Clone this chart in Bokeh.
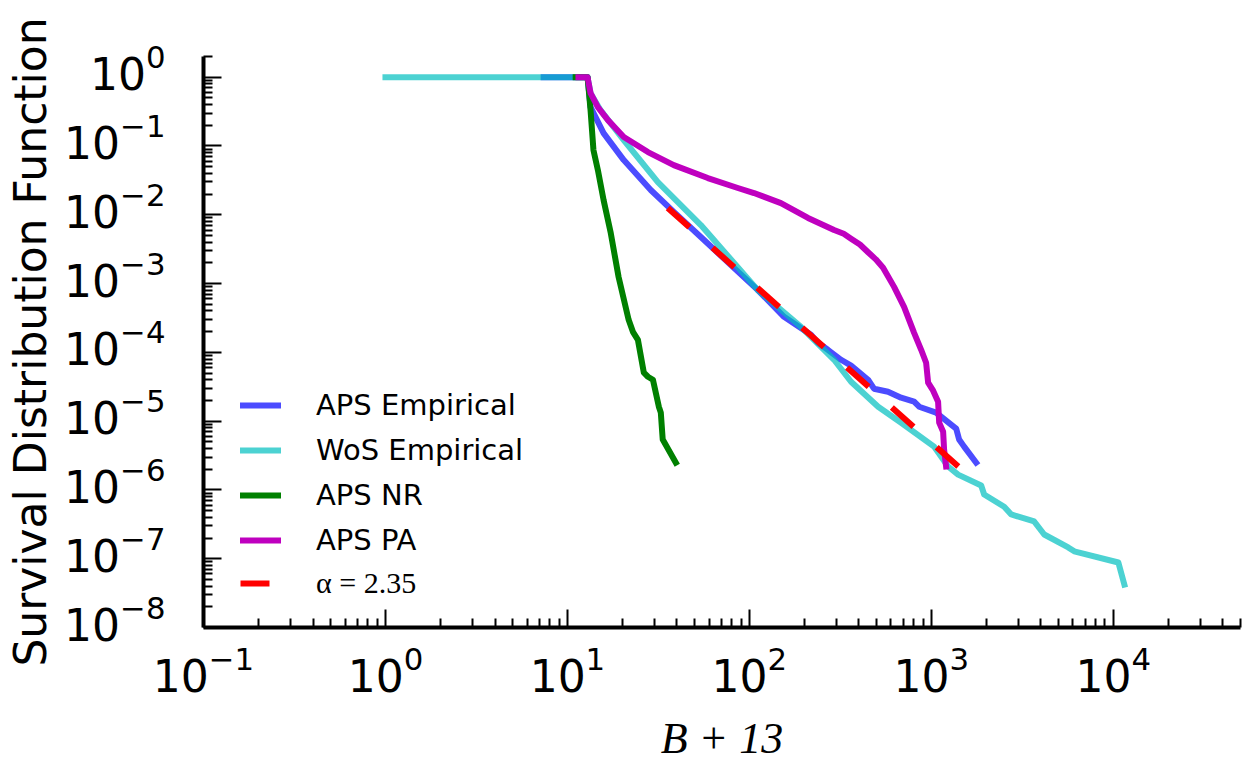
from bokeh.plotting import figure
from bokeh.models import (FixedTicker, LogTickFormatter, CustomJSTickFormatter, Legend, LegendItem,
                          Range1d, LogAxis, LogScale)
from bokeh.embed import file_html
from bokeh.resources import INLINE

# ---------------- data ----------------
aps_emp_x = [7.4, 12.9, 13.4, 15.8, 20.4, 28.7, 38.4, 54.1, 82.2, 111, 155, 218, 238, 270,
             319, 362, 449, 484, 578, 682, 804, 857, 1062, 1284, 1369, 1421, 1514, 1762]
aps_emp_y = [1.0, 1.0, 0.367, 0.154, 0.0624, 0.0229, 0.011, 4.76e-3, 1.69e-3, 8.1e-4, 3.29e-4,
             1.80e-4, 1.38e-4, 1.09e-4, 7.8e-5, 6.4e-5, 4.0e-5, 2.96e-5, 2.68e-5, 2.19e-5,
             1.92e-5, 1.62e-5, 1.33e-5, 8.9e-6, 7.8e-6, 5.4e-6, 4.26e-6, 2.5e-6]

wos_emp_x = [1.0, 12.9, 13.4, 15.2, 20.4, 31.4, 54.1, 76.2, 111, 192, 292, 362, 510, 682,
             1035, 1236, 1403, 1879, 1951, 2513, 2748, 3675, 4171, 5653, 6100, 10660, 11500]
wos_emp_y = [1.0, 1.0, 0.586, 0.332, 0.122, 0.0299, 7.1e-3, 2.52e-3, 8.1e-4, 2.35e-4, 7.8e-5,
             3.74e-5, 1.62e-5, 9.5e-6, 4.26e-6, 2.19e-6, 1.67e-6, 1.16e-6, 8.6e-7, 5.7e-7,
             4.4e-7, 3.48e-7, 2.25e-7, 1.46e-7, 1.28e-7, 8.8e-8, 4.2e-8]

aps_nr_x = [11.1, 12.9, 13.1, 13.4, 13.9, 14.7, 15.8, 17.3, 19.1, 21.7, 22.9, 24.4, 26.3,
            27.7, 29.5, 31.8, 32.6, 33.4, 39.4]
aps_nr_y = [1.0, 1.0, 0.648, 0.332, 0.0872, 0.0447, 0.0164, 5.44e-3, 1.25e-3, 2.97e-4,
            1.99e-4, 1.52e-4, 5.06e-5, 4.42e-5, 4.0e-5, 1.62e-5, 1.33e-5, 5.39e-6, 2.5e-6]

aps_pa_x = [11.5, 12.9, 13.4, 14.7, 16.7, 20.4, 27.7, 38.4, 59.1, 86.4, 106, 149, 210, 292,
            330, 362, 405, 449, 495, 543, 624, 708, 804, 879, 936, 960, 1023, 1089, 1104,
            1161, 1175, 1205]
aps_pa_y = [1.0, 1.0, 0.586, 0.367, 0.238, 0.135, 0.0816, 0.0528, 0.0342, 0.0245, 0.0207,
            0.0148, 8.99e-3, 6.0e-3, 5.3e-3, 4.5e-3, 3.7e-3, 2.85e-3, 2.25e-3, 1.7e-3, 8.95e-4,
            4.59e-4, 1.92e-4, 1.09e-4, 7.07e-5, 3.62e-5, 2.77e-5, 1.92e-5, 9.5e-6, 7.0e-6,
            3.86e-6, 2.19e-6]

fit_x = [35.6, 1460]
fit_y = [0.01256, 2.0e-6]

series_labels = ["APS Empirical", "WoS Empirical", "APS NR", "APS PA"]
fit_label = "α = 2.35"
y_title = "Survival Distribution Function"
x_title = "B + 13"

x_exponents = [-1, 0, 1, 2, 3, 4]
y_exponents = [-8, -7, -6, -5, -4, -3, -2, -1, 0]
X_MIN, X_MAX = 0.1, 5e4
Y_MIN, Y_MAX = 1e-8, 2.0
x_major = [10.0 ** k for k in x_exponents]
y_major = [10.0 ** k for k in y_exponents]
x_minor = [m * 10.0 ** k for k in x_exponents for m in range(2, 10) if m * 10.0 ** k <= X_MAX * 1.0001]
y_minor = [m * 10.0 ** k for k in y_exponents for m in range(2, 10) if m * 10.0 ** k <= Y_MAX * 1.0001]

# label axis range: same scale, shifted so the "10" base sits centred on each tick
LABEL_SHIFT = 10 ** (-10 / 68.9)

# ---------------- figure ----------------
p = figure(width=1244, height=765, x_axis_type="log", y_axis_type="log",
           x_range=Range1d(X_MIN, X_MAX), y_range=Range1d(Y_MIN, Y_MAX),
           output_backend="svg", toolbar_location=None,
           min_border_left=203, min_border_right=4, min_border_top=56, min_border_bottom=137)
p.outline_line_color = None
p.xgrid.visible = False
p.ygrid.visible = False
p.background_fill_color = "white"
p.border_fill_color = "white"

xax = p.xaxis[0]
yax = p.yaxis[0]
xax.ticker = FixedTicker(ticks=x_major, minor_ticks=x_minor)
yax.ticker = FixedTicker(ticks=y_major, minor_ticks=y_minor)
xax.formatter = LogTickFormatter()
yax.formatter = CustomJSTickFormatter(code="return ''")
for ax in (xax, yax):
    ax.axis_line_width = 4
    ax.axis_line_color = "black"
    ax.major_tick_in = 18
    ax.major_tick_out = 0
    ax.minor_tick_in = 9
    ax.minor_tick_out = 0
    ax.major_tick_line_width = 2
    ax.minor_tick_line_width = 2
    ax.major_label_text_font = "DejaVu Sans"
    ax.major_label_text_font_size = "44px"
    ax.major_label_text_color = "black"
yax.major_label_standoff = 0
xax.major_label_standoff = 18

xax.axis_label = x_title
xax.axis_label_text_font = "Liberation Serif"
xax.axis_label_text_font_size = "44px"
xax.axis_label_text_font_style = "italic"
xax.axis_label_text_color = "black"
xax.axis_label_standoff = 19

# y tick labels + title on a label-only axis
p.extra_y_ranges = {"lab": Range1d(Y_MIN * LABEL_SHIFT, Y_MAX * LABEL_SHIFT)}
p.extra_y_scales = {"lab": LogScale()}
lab = LogAxis(y_range_name="lab", ticker=FixedTicker(ticks=y_major, minor_ticks=[]),
              formatter=LogTickFormatter(),
              axis_line_color=None, major_tick_line_color=None, minor_tick_line_color=None,
              major_tick_in=0, major_tick_out=0, minor_tick_in=0, minor_tick_out=0,
              major_label_text_font="DejaVu Sans", major_label_text_font_size="44px",
              major_label_text_color="black", major_label_standoff=38,
              axis_label=y_title, axis_label_text_font="DejaVu Sans",
              axis_label_text_font_size="44px", axis_label_text_font_style="normal",
              axis_label_text_color="black", axis_label_standoff=5)
p.add_layout(lab, "left")

lw = 6
r_aps = p.line(aps_emp_x, aps_emp_y, line_color=(0, 0, 255), line_alpha=0.7, line_width=lw,
               line_join="round", line_cap="square")
r_wos = p.line(wos_emp_x, wos_emp_y, line_color=(0, 191, 191), line_alpha=0.7, line_width=lw,
               line_join="round", line_cap="square")
r_nr = p.line(aps_nr_x, aps_nr_y, line_color=(0, 128, 0), line_width=lw,
              line_join="round", line_cap="square")
r_pa = p.line(aps_pa_x, aps_pa_y, line_color=(191, 0, 191), line_width=lw,
              line_join="round", line_cap="square")
r_fit = p.line(fit_x, fit_y, line_color=(255, 0, 0), line_width=lw, line_dash="29 31",
               line_cap="butt")

leg1 = Legend(items=[LegendItem(label=lab_, renderers=[r]) for lab_, r in
                     zip(series_labels, [r_aps, r_wos, r_nr, r_pa])],
              location=(37, 70), padding=0, margin=0, spacing=11,
              glyph_width=41, glyph_height=34, label_height=34, label_standoff=35,
              label_text_font="DejaVu Sans", label_text_font_size="29px",
              label_text_color="black",
              border_line_color=None, background_fill_alpha=0)
leg2 = Legend(items=[LegendItem(label=fit_label, renderers=[r_fit])],
              location=(37, 27), padding=0, margin=0, spacing=0,
              glyph_width=41, glyph_height=34, label_height=34, label_standoff=35,
              label_text_font="Liberation Serif", label_text_font_size="30px",
              label_text_color="black",
              border_line_color=None, background_fill_alpha=0)
p.add_layout(leg1)
p.add_layout(leg2)

open("out.html", "w").write(file_html(p, INLINE))
